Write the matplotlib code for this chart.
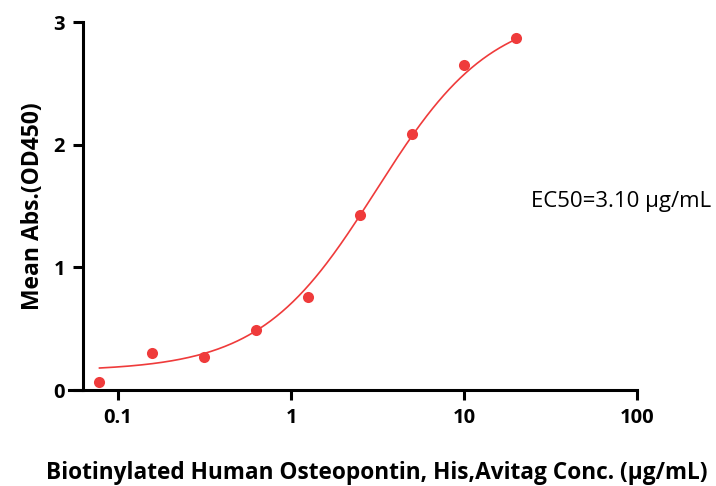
import numpy as np
import matplotlib
matplotlib.use('Agg')
from matplotlib import pyplot as plt
from matplotlib.ticker import FixedLocator, NullLocator

# 数据点 (浓度 μg/mL, OD450)
conc = [0.078, 0.156, 0.3125, 0.625, 1.25, 2.5, 5, 10, 20]
od450 = [0.065, 0.30, 0.27, 0.49, 0.76, 1.43, 2.09, 2.65, 2.87]

# 四参数拟合曲线参数
bottom = 0.155
top = 3.10
ec50 = 3.10
hill = 1.3

xticks = [0.1, 1, 10, 100]
xticklabels = ['0.1', '1', '10', '100']
yticks = [0, 1, 2, 3]

red = '#ef3b3b'
plt.rcParams['font.family'] = ['Open Sans', 'DejaVu Sans']

fig = plt.figure(figsize=(7.16, 4.86), dpi=100)
ax = fig.add_axes([0.0964, 0.1975, 0.7933, 0.7572])

xfit = np.logspace(np.log10(conc[0]), np.log10(conc[-1]), 300)
yfit = bottom + (top - bottom) / (1 + (ec50 / xfit) ** hill)
ax.plot(xfit, yfit, color=red, lw=1.2)
ax.plot(conc, od450, 'o', color=red, ms=8, mec='none')

ax.set_xscale('log')
ax.set_xlim(0.052, 100)
ax.set_ylim(0, 3)
ax.xaxis.set_major_locator(FixedLocator(xticks))
ax.xaxis.set_minor_locator(NullLocator())
ax.set_xticklabels(xticklabels)
ax.set_yticks(yticks)

ax.spines['top'].set_visible(False)
ax.spines['right'].set_visible(False)
ax.spines['left'].set_position(('data', 0.0626))
ax.spines['left'].set_linewidth(2.2)
ax.spines['bottom'].set_linewidth(2.2)
ax.tick_params(direction='out', length=7, width=2.2, labelsize=14.5, pad=6)
for t in ax.get_xticklabels() + ax.get_yticklabels():
    t.set_fontweight('bold')

ax.set_xlabel('Biotinylated Human Osteopontin, His,Avitag Conc. (μg/mL)',
              fontsize=16.3, fontweight='bold', labelpad=24)
ax.xaxis.label.set_x(0.541)
ax.set_ylabel('Mean Abs.(OD450)', fontsize=16.5, fontweight='bold', labelpad=6)
fig.text(0.741, 0.574, 'EC50=3.10 μg/mL', fontsize=16)

plt.savefig('out.png', dpi=100)
